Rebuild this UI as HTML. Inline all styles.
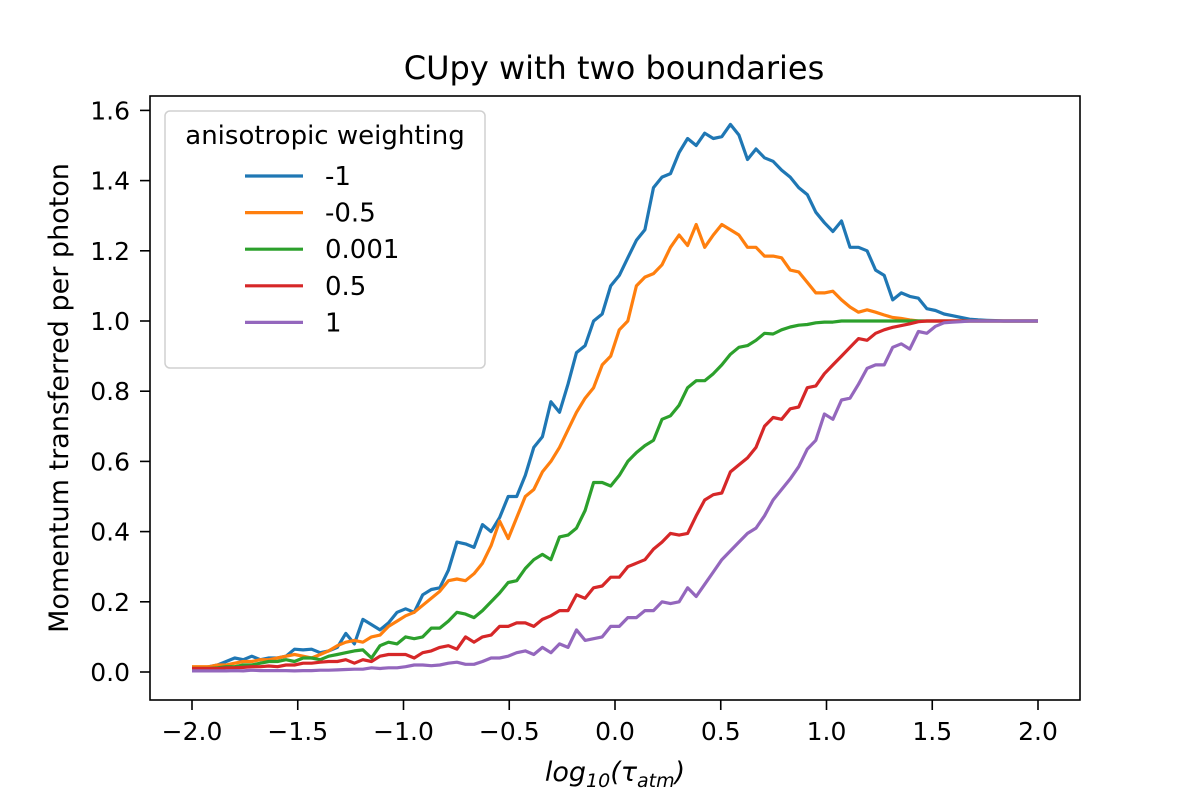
<!DOCTYPE html>
<html><head><meta charset="utf-8"><style>
body{margin:0;background:#fff}
svg text{font-family:"DejaVu Sans","Liberation Sans",sans-serif;fill:#000}
</style></head><body>
<svg id="chart" width="1200" height="800" xmlns="http://www.w3.org/2000/svg">
<rect width="1200" height="800" fill="#fff"/>
<text x="614" y="79" font-size="32" text-anchor="middle">CUpy with two boundaries</text>
<g id="plot"></g>
<g id="axes"></g>
<text transform="translate(68,398) rotate(-90)" font-size="27" text-anchor="middle">Momentum transferred per photon</text>
<text x="615" y="781" font-size="27" text-anchor="middle" font-style="italic">log<tspan font-size="19" dy="6">10</tspan><tspan dy="-6">(τ</tspan><tspan font-size="19" dy="6">atm</tspan><tspan dy="-6">)</tspan></text>
<g id="legend"></g>
</svg>
<script>
const seriesNames = ["-1","-0.5","0.001","0.5","1"];
const colors = ["#1f77b4","#ff7f0e","#2ca02c","#d62728","#9467bd"];
const xTicks = [-2.0,-1.5,-1.0,-0.5,0.0,0.5,1.0,1.5,2.0];
const xTickLabels = ["\u22122.0","\u22121.5","\u22121.0","\u22120.5","0.0","0.5","1.0","1.5","2.0"];
const yTicks = [0,0.2,0.4,0.6,0.8,1.0,1.2,1.4,1.6];
const yTickLabels = ["0.0","0.2","0.4","0.6","0.8","1.0","1.2","1.4","1.6"];
const seriesA = [0.01,0.01,0.015,0.02,0.03,0.04,0.035,0.045,0.035,0.04,
0.04,0.045,0.065,0.063,0.065,0.055,0.06,0.07,0.11,0.08,
0.15,0.135,0.12,0.14,0.17,0.18,0.17,0.22,0.235,0.24,
0.29,0.37,0.365,0.355,0.42,0.40,0.44,0.50,0.50,0.56,
0.64,0.67,0.77,0.74,0.82,0.91,0.93,1.0,1.02,1.1,
1.13,1.18,1.23,1.26,1.38,1.41,1.42,1.48,1.52,1.50,
1.535,1.52,1.525,1.56,1.53,1.46,1.49,1.465,1.455,1.43,
1.41,1.38,1.36,1.31,1.28,1.255,1.285,1.21,1.21,1.2,
1.145,1.13,1.06,1.08,1.07,1.065,1.035,1.03,1.02,1.015,
1.01,1.005,1.003,1.002,1.001,1,1,1,1,1];
const seriesB = [0.015,0.015,0.015,0.02,0.02,0.025,0.03,0.03,0.035,0.035,
0.04,0.045,0.05,0.045,0.04,0.05,0.06,0.075,0.085,0.09,
0.085,0.1,0.105,0.13,0.145,0.16,0.17,0.19,0.21,0.23,
0.26,0.265,0.26,0.28,0.31,0.36,0.43,0.38,0.44,0.5,
0.52,0.57,0.6,0.64,0.69,0.74,0.78,0.81,0.875,0.9,
0.975,1.0,1.1,1.125,1.135,1.16,1.21,1.245,1.215,1.275,
1.21,1.245,1.275,1.26,1.245,1.21,1.21,1.185,1.185,1.18,
1.145,1.14,1.11,1.08,1.08,1.085,1.06,1.04,1.025,1.032,
1.025,1.017,1.01,1.007,1.003,1,1,1,1,1,
1,1,1,1,1,1,1,1,1,1];
const seriesC = [0.01,0.01,0.01,0.012,0.015,0.015,0.02,0.02,0.025,0.03,
0.03,0.035,0.03,0.04,0.04,0.035,0.045,0.05,0.055,0.06,
0.063,0.04,0.075,0.085,0.08,0.1,0.095,0.1,0.125,0.125,
0.145,0.17,0.165,0.155,0.175,0.2,0.225,0.255,0.26,0.295,
0.32,0.335,0.32,0.385,0.39,0.41,0.46,0.54,0.54,0.53,
0.56,0.6,0.625,0.645,0.66,0.72,0.73,0.76,0.81,0.83,
0.83,0.85,0.875,0.905,0.925,0.93,0.945,0.965,0.963,0.975,
0.983,0.988,0.99,0.995,0.997,0.997,1,1,1,1,
1,1,1,1,1,1,1,1,1,1,
1,1,1,1,1,1,1,1,1,1];
const seriesD = [0.01,0.01,0.01,0.01,0.012,0.012,0.013,0.015,0.015,0.017,
0.015,0.02,0.02,0.025,0.025,0.028,0.03,0.03,0.035,0.025,
0.035,0.03,0.045,0.05,0.05,0.05,0.04,0.055,0.06,0.07,
0.075,0.065,0.1,0.085,0.1,0.105,0.13,0.13,0.14,0.14,
0.13,0.15,0.16,0.175,0.175,0.22,0.21,0.24,0.245,0.27,
0.27,0.3,0.31,0.32,0.35,0.37,0.395,0.39,0.395,0.445,
0.49,0.505,0.51,0.57,0.59,0.61,0.64,0.7,0.725,0.72,
0.75,0.755,0.81,0.815,0.85,0.875,0.9,0.925,0.95,0.945,
0.965,0.975,0.982,0.987,0.992,0.998,1,1,1,1,
1,1,1,1,1,1,1,1,1,1];
const seriesE = [0.003,0.003,0.003,0.003,0.003,0.004,0.003,0.005,0.004,0.004,
0.004,0.004,0.003,0.004,0.004,0.005,0.005,0.006,0.007,0.008,
0.008,0.012,0.01,0.012,0.012,0.015,0.02,0.02,0.018,0.02,
0.025,0.028,0.022,0.022,0.03,0.04,0.04,0.045,0.055,0.06,
0.05,0.07,0.055,0.08,0.07,0.12,0.09,0.095,0.1,0.13,
0.13,0.155,0.155,0.175,0.175,0.2,0.195,0.2,0.24,0.215,
0.25,0.285,0.32,0.345,0.37,0.395,0.41,0.445,0.49,0.52,
0.55,0.585,0.635,0.66,0.735,0.72,0.775,0.78,0.82,0.865,
0.875,0.875,0.925,0.935,0.92,0.97,0.965,0.985,0.995,0.997,
0.998,1,1,1,1,1,1,1,1,1];
const allSeries = [seriesA,seriesB,seriesC,seriesD,seriesE];
const xMin=-2, xMax=2, nPts=100;

const NS="http://www.w3.org/2000/svg";
const L=150,R=1080,T=96,B=700;
function xScale(v){return 192+(v+2)*211.5;}
function yScale(v){return 672-v*351;}
function mk(tag,attrs,parent){const e=document.createElementNS(NS,tag);for(const k in attrs)e.setAttribute(k,attrs[k]);parent.appendChild(e);return e;}
const plot=document.getElementById('plot');
allSeries.forEach((s,si)=>{
  const pts=s.map((v,i)=>{const x=xMin+i*(xMax-xMin)/(nPts-1);return xScale(x).toFixed(1)+','+yScale(v).toFixed(1);}).join(' ');
  const p=mk('polyline',{points:pts,fill:'none',stroke:colors[si],'stroke-width':3.2,'stroke-linejoin':'round'},plot);
  
  
});
const axes=document.getElementById('axes');
const fr=mk('rect',{x:L,y:T,width:R-L,height:B-T,fill:'none',stroke:'#000','stroke-width':1.6},axes);


xTicks.forEach((t,i)=>{
  const x=xScale(t);
  const tk=mk('line',{x1:x,x2:x,y1:B,y2:B+10,stroke:'#000','stroke-width':1.6},axes);
  
  
  const tx=mk('text',{x:x,y:B+40,'font-size':25,'text-anchor':'middle'},axes);
  tx.textContent=xTickLabels[i];
  
  
});
yTicks.forEach((t,i)=>{
  const y=yScale(t);
  const tk=mk('line',{x1:L-10,x2:L,y1:y,y2:y,stroke:'#000','stroke-width':1.6},axes);
  
  
  const tx=mk('text',{x:L-20,y:y+9,'font-size':25,'text-anchor':'end'},axes);
  tx.textContent=yTickLabels[i];
  
  
});
const lg=document.getElementById('legend');
const bx=mk('rect',{x:165,y:111,width:320,height:257,rx:5,fill:'#fff','fill-opacity':0.8,stroke:'#d0d0d0','stroke-width':1.5},lg);


const lt=mk('text',{x:325,y:144,'font-size':26,'text-anchor':'middle'},lg);
lt.textContent='anisotropic weighting';


seriesNames.forEach((n,i)=>{
  const y=176+i*36.6;
  const ln=mk('line',{x1:245,x2:303,y1:y,y2:y,stroke:colors[i],'stroke-width':3.2},lg);
  
  
  const tx=mk('text',{x:325,y:y+9,'font-size':26},lg);
  tx.textContent=n;
  
  
});
</script>
</body></html>
